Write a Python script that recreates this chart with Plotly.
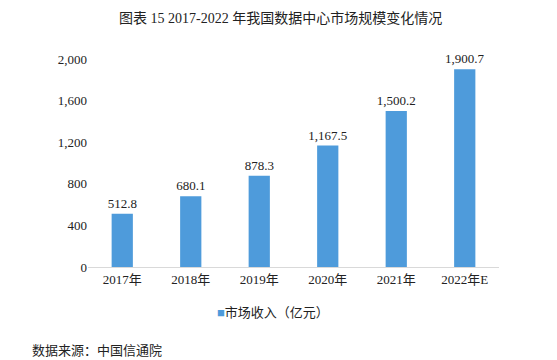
import plotly.graph_objects as go

categories = ["2017年", "2018年", "2019年", "2020年", "2021年", "2022年E"]
values = [512.8, 680.1, 878.3, 1167.5, 1500.2, 1900.7]
labels = ["512.8", "680.1", "878.3", "1,167.5", "1,500.2", "1,900.7"]
series_name = "市场收入（亿元）"
title = "图表 15 2017-2022 年我国数据中心市场规模变化情况"
source = "数据来源：中国信通院"

FONT = "Liberation Serif, Noto Sans CJK SC, serif"
BAR = "#4E9BDB"
PLOT_H = 360 - 59 - 93

fig = go.Figure()
fig.add_trace(go.Bar(
    x=categories, y=values, name=series_name,
    marker=dict(color=BAR, line=dict(width=0)),
    width=0.31,
    text=labels, textposition="outside", cliponaxis=False, constraintext="none",
    textfont=dict(size=13, color="#222222", family=FONT),
    showlegend=False, hoverinfo="skip",
))
fig.update_layout(
    width=557, height=360,
    margin=dict(l=88, r=58, t=59, b=93, autoexpand=False),
    plot_bgcolor="white", paper_bgcolor="white",
    font=dict(family=FONT, size=13, color="#222222"),
    showlegend=False,
    xaxis=dict(showline=True, linecolor="#D9D9D9", linewidth=1, ticks="",
               tickfont=dict(size=13)),
    yaxis=dict(range=[0, 2000], tickvals=[0, 400, 800, 1200, 1600, 2000],
               tickformat=",", showgrid=False, zeroline=False, ticks="",
               ticklen=0, tickfont=dict(size=13)),
    annotations=[
        dict(text=title, x=(280 - 88) / 411, xanchor="center",
             y=1.0 + (59 - 18) / PLOT_H, yanchor="middle",
             xref="paper", yref="paper", showarrow=False,
             font=dict(size=14, color="#222222")),
        dict(text=f"<span style='color:{BAR}'>■</span>{series_name}",
             x=(273 - 88) / 411, xanchor="center", y=-(312 - 267) / PLOT_H, yanchor="middle",
             xref="paper", yref="paper", showarrow=False,
             font=dict(size=13, color="#222222")),
        dict(text=source, x=-(88 - 30) / 411, xanchor="left",
             y=-(350 - 267) / PLOT_H, yanchor="middle",
             xref="paper", yref="paper", showarrow=False,
             font=dict(size=13, color="#222222")),
    ],
)
fig.write_html("out.html", config={"displayModeBar": False},
               post_script="document.body.style.margin='0';document.body.style.overflow='hidden';")
